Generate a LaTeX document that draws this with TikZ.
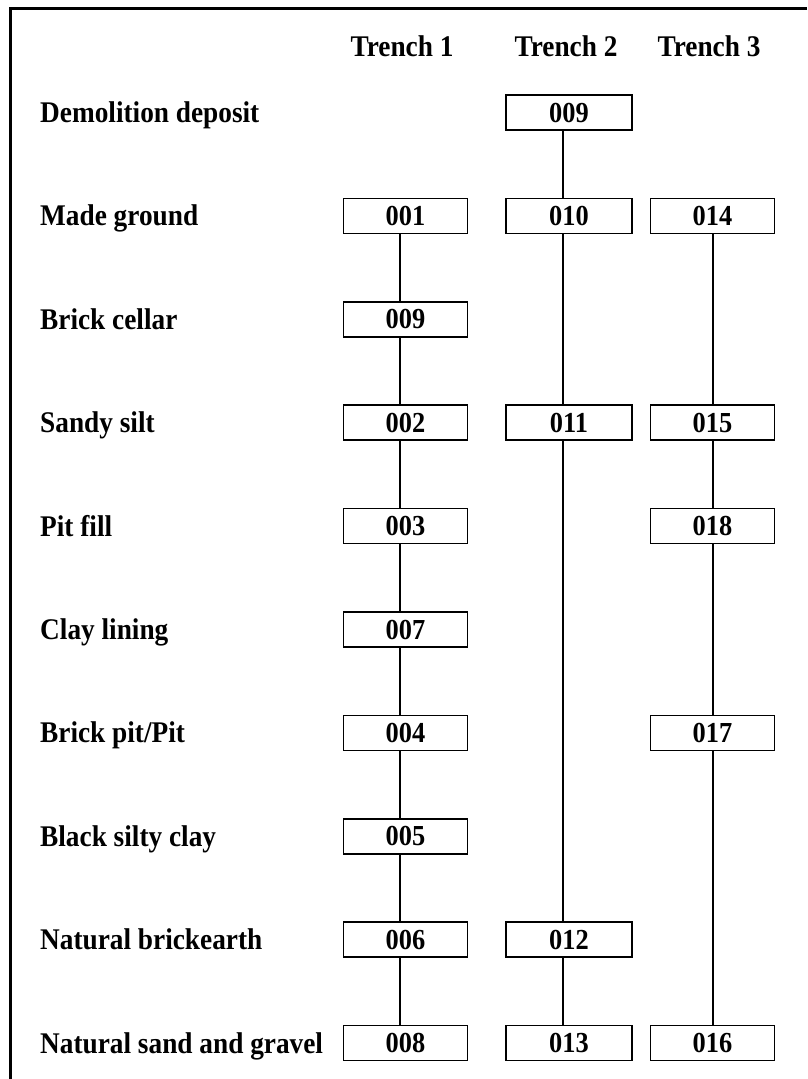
\documentclass[tikz,border=0pt]{standalone}
\usepackage{fontspec}
\setmainfont{Liberation Serif}[FakeStretch=0.91]
\begin{document}
\begin{tikzpicture}[x=1pt,y=-1pt,
  txt/.style={font=\bfseries\fontsize{30}{32}\selectfont, inner sep=0pt},
  lbl/.style={txt, anchor=base west},
  hdr/.style={txt, anchor=base},
  ctx/.style={draw, line width=1.6pt, minimum width=124pt, minimum height=35pt, inner sep=0pt, font=\bfseries\fontsize{29}{31}\selectfont},
  link/.style={line width=1.6pt}]
\useasboundingbox (0,0) rectangle (807,1079);
% frame (top and left only)
\draw[line width=3pt] (10.5,1079) -- (10.5,8.5) -- (807,8.5);
% headers
\node[hdr] (H1) at (402,56) {Trench 1};
\node[hdr] (H2) at (566,56) {Trench 2};
\node[hdr] (H3) at (709,56) {Trench 3};
% row labels
\def\ry#1{112.5+103.4*#1}
\node[lbl] (L0) at (40,{\ry{0}+10}) {Demolition deposit};
\node[lbl] (L1) at (40,{\ry{1}+10}) {Made ground};
\node[lbl] (L2) at (40,{\ry{2}+10}) {Brick cellar};
\node[lbl] (L3) at (40,{\ry{3}+10}) {Sandy silt};
\node[lbl] (L4) at (40,{\ry{4}+10}) {Pit fill};
\node[lbl] (L5) at (40,{\ry{5}+10}) {Clay lining};
\node[lbl] (L6) at (40,{\ry{6}+10}) {Brick pit/Pit};
\node[lbl] (L7) at (40,{\ry{7}+10}) {Black silty clay};
\node[lbl] (L8) at (40,{\ry{8}+10}) {Natural brickearth};
\node[lbl] (L9) at (40,{\ry{9}+10}) {Natural sand and gravel};
% Trench 1 boxes
\node[ctx] (a1) at (405.5,{\ry{1}}) {001};
\node[ctx] (a2) at (405.5,{\ry{2}}) {009};
\node[ctx] (a3) at (405.5,{\ry{3}}) {002};
\node[ctx] (a4) at (405.5,{\ry{4}}) {003};
\node[ctx] (a5) at (405.5,{\ry{5}}) {007};
\node[ctx] (a6) at (405.5,{\ry{6}}) {004};
\node[ctx] (a7) at (405.5,{\ry{7}}) {005};
\node[ctx] (a8) at (405.5,{\ry{8}}) {006};
\node[ctx] (a9) at (405.5,{\ry{9}}) {008};
% Trench 2 boxes
\node[ctx, minimum width=126pt] (b0) at (569,{\ry{0}}) {009};
\node[ctx, minimum width=126pt] (b1) at (569,{\ry{1}}) {010};
\node[ctx, minimum width=126pt] (b3) at (569,{\ry{3}}) {011};
\node[ctx, minimum width=126pt] (b8) at (569,{\ry{8}}) {012};
\node[ctx, minimum width=126pt] (b9) at (569,{\ry{9}}) {013};
% Trench 3 boxes
\node[ctx] (c1) at (712.5,{\ry{1}}) {014};
\node[ctx] (c3) at (712.5,{\ry{3}}) {015};
\node[ctx] (c4) at (712.5,{\ry{4}}) {018};
\node[ctx] (c6) at (712.5,{\ry{6}}) {017};
\node[ctx] (c9) at (712.5,{\ry{9}}) {016};
% connectors
\foreach \u/\v in {a1/a2,a2/a3,a3/a4,a4/a5,a5/a6,a6/a7,a7/a8,a8/a9}
  \draw[link] ([xshift=-5.5pt]\u.south) -- ([xshift=-5.5pt]\v.north);
\foreach \u/\v in {b0/b1,b1/b3,b3/b8,b8/b9}
  \draw[link] ([xshift=-6pt]\u.south) -- ([xshift=-6pt]\v.north);
\foreach \u/\v in {c1/c3,c3/c4,c4/c6,c6/c9}
  \draw[link] ([xshift=0.5pt]\u.south) -- ([xshift=0.5pt]\v.north);
\end{tikzpicture}
\end{document}
